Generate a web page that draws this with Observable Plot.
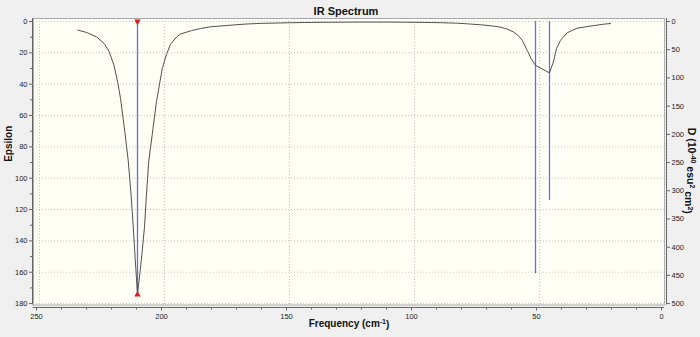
<!DOCTYPE html>
<html>
<head>
<meta charset="utf-8">
<script src="https://cdn.jsdelivr.net/npm/d3@7"></script>
<script src="https://cdn.jsdelivr.net/npm/@observablehq/plot@0.6"></script>
<style>
  html, body { margin: 0; padding: 0; background: #f0f0f0; }
</style>
</head>
<body>
<div id="chart"></div>
<script>
// Spectrum curve (Epsilon vs frequency)
const freq = [233.5, 230, 226, 223, 221, 219, 217.5, 216.4, 214.7, 213.3, 212.2, 211.3, 210.5, 209.6, 208.6, 207.8, 206.8, 206.0, 205.1, 203.7, 202.0, 200.8, 199.7, 198.0, 196.4, 194.0, 192.4, 188, 184.4, 180.4, 171, 167, 160, 148.4, 135, 123, 107, 95, 88, 82, 77.6, 72.4, 68, 64.4, 61.5, 59.1, 57.3, 55.7, 53.7, 52.1, 50.4, 44.8, 43.3, 42.0, 40.4, 37.7, 35.5, 33.7, 30, 27, 23.5, 20.4];
const epsilon = [5.5, 7, 9.8, 14, 19, 28, 39, 49, 70, 89, 110, 131, 152, 174, 160, 148, 131, 110, 89, 72, 51, 40, 30, 21, 14.5, 10, 8, 5.8, 4.5, 3.4, 2.2, 1.7, 1.2, 0.8, 0.5, 0.4, 0.4, 0.6, 0.8, 1.1, 1.5, 2.1, 2.8, 3.6, 5, 6.8, 9, 12, 18.5, 23.8, 28, 32.8, 26, 17.4, 12, 7.2, 5.5, 4.3, 3.3, 2.6, 1.8, 1.3];

// Stick spectrum (dipole strength D, 10^-40 esu^2 cm^2)
const stickFreq = [209.6, 50.4, 44.8];
const stickD = [484, 447, 317];

// Tick labels
const xTicks = [250, 200, 150, 100, 50, 0];
const xMinor = [240, 230, 220, 210, 190, 180, 170, 160, 140, 130, 120, 110, 90, 80, 70, 60, 40, 30, 20, 10];
const yTicks = [0, 20, 40, 60, 80, 100, 120, 140, 160, 180];
const yMinor = [10, 30, 50, 70, 90, 110, 130, 150, 170];
const dTicks = [0, 50, 100, 150, 200, 250, 300, 350, 400, 450, 500];

const EPS_MAX = 180, D_MAX = 500;
const toEps = d => d * EPS_MAX / D_MAX;

const spectrum = freq.map((f, i) => ({f, e: epsilon[i]}));
const sticks = stickFreq.map((f, i) => ({f, d: stickD[i]}));
const selected = [sticks[0]];

const fs = 7.5;
const tickColor = "#666";
const textColor = "#222";

const chart = Plot.plot({
  width: 700,
  height: 337,
  marginLeft: 33,
  marginRight: 36,
  marginTop: 18,
  marginBottom: 32.5,
  style: {background: "#f0f0f0", fontFamily: "Liberation Sans, Arial, sans-serif", color: textColor},
  x: {domain: [251.2, -1.2]},
  y: {domain: [-1.9, 180.9], reverse: true},
  marks: [
    Plot.frame({fill: "#fffff6", stroke: "#a8a8a8"}),
    // dotted grid
    Plot.ruleX(xTicks, {stroke: "#c4c4c4", strokeDasharray: "1,2", dx: 3}),
    Plot.ruleY(yTicks, {stroke: "#c4c4c4", strokeDasharray: "1,2"}),
    // stick spectrum
    Plot.ruleX(sticks, {x: "f", y1: 0, y2: d => toEps(d.d), stroke: "#5c70f0", strokeWidth: 1.3}),
    // curve
    Plot.line(spectrum, {x: "f", y: "e", stroke: "#505050", strokeWidth: 1}),
    // selected peak markers
    Plot.dot(selected, {x: "f", y: 0, symbol: "triangle", r: 2.4, fill: "#d42020", rotate: 180}),
    Plot.dot(selected, {x: "f", y: d => toEps(d.d), symbol: "triangle", r: 2.4, fill: "#d42020"}),
    // axis lines
    Plot.ruleX([251.2], {dx: -1, stroke: tickColor}),
    Plot.ruleX([-1.2], {dx: 2, stroke: tickColor}),
    Plot.ruleY([180.9], {dy: 2.5, stroke: tickColor}),
    // bottom axis
    Plot.axisX({ticks: xTicks, tickSize: 3.5, tickPadding: 2.5, dy: 2.5, fontSize: fs, stroke: tickColor, fill: textColor, label: null}),
    Plot.axisX({ticks: xMinor, tickSize: 2.5, dy: 2.5, text: null, stroke: tickColor, label: null}),
    // left axis
    Plot.axisY({ticks: yTicks, anchor: "left", tickSize: 3, tickPadding: 2, dx: -1, fontSize: fs, stroke: tickColor, fill: textColor, label: null}),
    Plot.axisY({ticks: yMinor, anchor: "left", tickSize: 2, dx: -1, text: null, stroke: tickColor, label: null}),
    // right axis (D)
    Plot.axisY({ticks: dTicks.map(toEps), tickFormat: v => String(Math.round(v * D_MAX / EPS_MAX)), anchor: "right", tickSize: 3, tickPadding: 2, dx: 2, fontSize: fs, stroke: tickColor, fill: textColor, label: null}),
    // titles
    Plot.text(["IR Spectrum"], {frameAnchor: "top", dx: -3, dy: -4, lineAnchor: "bottom", fontSize: 11, fontWeight: "bold", fill: "#111"}),
    Plot.text(["Frequency (cm-1)"], {frameAnchor: "bottom", dy: 22, fontSize: 10, fontWeight: "bold", fill: "#111", className: "xlab"}),
    Plot.text(["Epsilon"], {frameAnchor: "left", textAnchor: "middle", dx: -25, dy: -18, rotate: -90, fontSize: 10, fontWeight: "bold", fill: "#111"}),
    Plot.text(["D (10-40 esu2 cm2)"], {frameAnchor: "right", textAnchor: "middle", dx: 27, dy: 9, rotate: 90, fontSize: 10.5, fontWeight: "bold", fill: "#111", className: "ylab2"})
  ]
});
document.getElementById("chart").appendChild(chart);

// superscripts in the axis labels
function superscript(sel, parts) {
  const t = d3.select(chart).select(sel + " text");
  if (t.empty()) return;
  t.text(null);
  let up = false;
  for (const [s, sup] of parts) {
    const ts = t.append("tspan").text(s);
    if (sup && !up) { ts.attr("dy", "-0.4em").attr("font-size", "7px"); up = true; }
    else if (sup && up) { ts.attr("font-size", "7px"); }
    else if (!sup && up) { ts.attr("dy", "0.4em"); up = false; }
  }
}
superscript(".xlab", [["Frequency (cm", false], ["-1", true], [")", false]]);
superscript(".ylab2", [["D (10", false], ["-40", true], [" esu", false], ["2", true], [" cm", false], ["2", true], [")", false]]);
</script>
</body>
</html>
